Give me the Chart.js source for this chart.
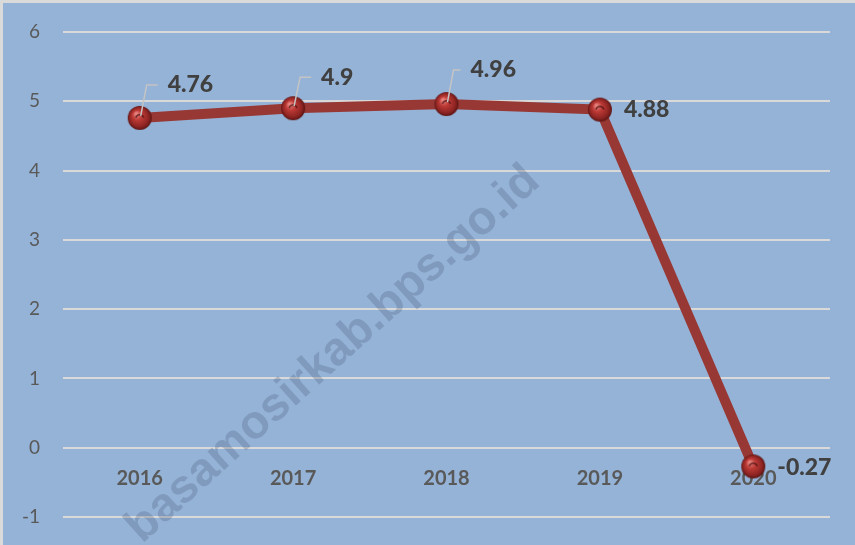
<!DOCTYPE html>
<html lang="id">
<head>
<meta charset="UTF-8" />
<title>Pertumbuhan Ekonomi 2016-2020</title>
<script src="https://cdn.jsdelivr.net/npm/chart.js"></script>
<style>
* { box-sizing: border-box; }
body { margin: 0; background: #fff; }
.wrap {
    width: 855px;
    height: 545px;
    background: #95b3d7;
    border-top: 3px solid #dadada;
    border-left: 3px solid #dadada;
    position: relative;
}
</style>
</head>
<body>
<div class="wrap"><canvas id="growthChart"></canvas></div>
<script>
const years = ['2016', '2017', '2018', '2019', '2020'];
const growth = [4.76, 4.9, 4.96, 4.88, -0.27];
const yTicks = [-1, 0, 1, 2, 3, 4, 5, 6];

// shiny red ball used as the marker
function makeBall(r) {
    const c = document.createElement('canvas');
    c.width = c.height = r * 2 + 2;
    const g = c.getContext('2d');
    const cx = r + 1, cy = r + 1;
    const grad = g.createRadialGradient(cx - r * 0.3, cy - r * 0.35, 1, cx, cy, r);
    grad.addColorStop(0, '#e8837e');
    grad.addColorStop(0.35, '#bd3a36');
    grad.addColorStop(0.8, '#8c2422');
    grad.addColorStop(1, '#5a1413');
    g.fillStyle = grad;
    g.beginPath(); g.arc(cx, cy, r, 0, Math.PI * 2); g.fill();
    g.strokeStyle = 'rgba(70,15,15,0.8)';
    g.lineWidth = 1.5;
    g.beginPath(); g.arc(cx, cy + 1, r * 0.35, Math.PI * 1.1, Math.PI * 1.9); g.stroke();
    return c;
}
const ball = makeBall(12);

// value labels, some with a leader line
const valueLabels = {
    id: 'valueLabels',
    afterDatasetsDraw(chart) {
        const ctx = chart.ctx;
        const pts = chart.getDatasetMeta(0).data;
        const offs = [[28, -33, true], [28, -31, true], [24, -34, true], [24, 0, false], [24, 1, false]];
        ctx.save();
        pts.forEach((p, i) => {
            const [dx, dy, leader] = offs[i];
            if (leader) {
                ctx.strokeStyle = '#c4c4c4';
                ctx.lineWidth = 1.5;
                ctx.beginPath();
                ctx.moveTo(p.x + 1, p.y - 2);
                ctx.lineTo(p.x + 7, p.y + dy);
                ctx.lineTo(p.x + dx - 10, p.y + dy);
                ctx.stroke();
            }
            ctx.fillStyle = '#404040';
            ctx.font = '900 23px Lato, "Liberation Sans", sans-serif';
            ctx.textAlign = 'left';
            ctx.textBaseline = 'middle';
            ctx.fillText(String(growth[i]), p.x + dx, p.y + dy);
        });
        ctx.restore();
    }
};

// faint diagonal site mark
const watermark = {
    id: 'watermark',
    afterDraw(chart) {
        const ctx = chart.ctx;
        ctx.save();
        ctx.translate(339, 361);
        ctx.rotate(-42 * Math.PI / 180);
        ctx.fillStyle = 'rgba(70,90,120,0.27)';
        ctx.font = 'bold 47px "Liberation Sans", Arial, sans-serif';
        ctx.textAlign = 'center';
        ctx.textBaseline = 'alphabetic';
        ctx.fillText('basamosirkab.bps.go.id', 0, 0);
        ctx.restore();
    }
};

new Chart(document.getElementById('growthChart'), {
    type: 'line',
    data: {
        labels: years,
        datasets: [{
            data: growth,
            borderColor: '#983834',
            borderWidth: 10,
            tension: 0,
            pointStyle: ball,
            pointRadius: 12,
            pointHoverRadius: 12
        }]
    },
    options: {
        responsive: true,
        maintainAspectRatio: false,
        animation: false,
        events: [],
        layout: { padding: { top: 29, right: 25, bottom: 28, left: 0 } },
        plugins: { legend: { display: false }, tooltip: { enabled: false } },
        scales: {
            x: {
                position: { y: 0 },
                offset: true,
                grid: { display: false, drawTicks: false },
                border: { display: false },
                ticks: {
                    padding: 19,
                    color: '#595959',
                    font: { family: 'Lato, "Liberation Sans", sans-serif', size: 20, weight: 'bold' }
                }
            },
            y: {
                min: -1,
                max: 6,
                afterFit: s => { s.width = 60; s.paddingTop = 0; s.paddingBottom = 0; },
                afterBuildTicks: s => { s.ticks = yTicks.map(v => ({ value: v })); },
                grid: { color: '#d9d9d9', lineWidth: 2, drawTicks: false },
                border: { display: false },
                ticks: {
                    padding: 23,
                    color: '#595959',
                    font: { family: 'Lato, "Liberation Sans", sans-serif', size: 19 }
                }
            }
        }
    },
    plugins: [valueLabels, watermark]
});
</script>
</body>
</html>
